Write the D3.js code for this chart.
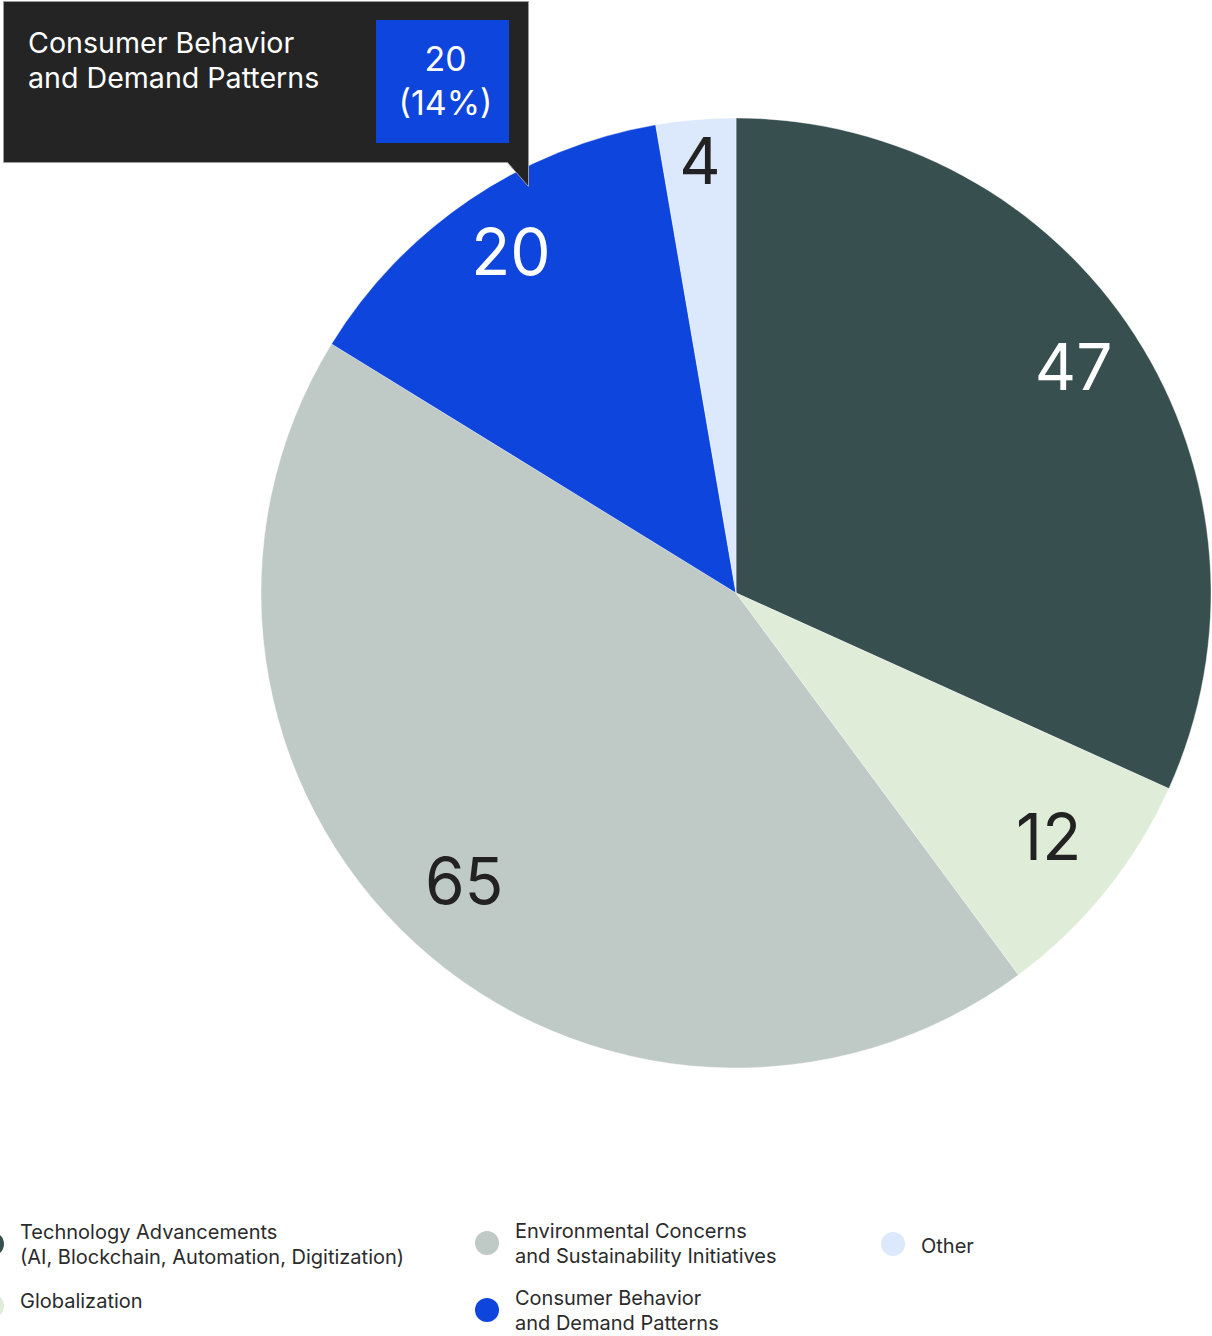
<!DOCTYPE html>
<html>
<head>
<meta charset="utf-8">
<script src="https://cdn.jsdelivr.net/npm/d3@7"></script>
<style>
  html, body { margin: 0; padding: 0; background: #ffffff; }
  svg { display: block; font-family: Inter, "Noto Sans", sans-serif; }
</style>
</head>
<body>
<svg id="chart" width="1212" height="1336"></svg>
<script>
// Drivers of change: number of mentions per category
const categories = [
  "Technology Advancements (AI, Blockchain, Automation, Digitization)",
  "Globalization",
  "Environmental Concerns and Sustainability Initiatives",
  "Consumer Behavior and Demand Patterns",
  "Other"
];
const values = [47, 12, 65, 20, 4];
const legendLines = [
  ["Technology Advancements", "(AI, Blockchain, Automation, Digitization)"],
  ["Globalization"],
  ["Environmental Concerns", "and Sustainability Initiatives"],
  ["Consumer Behavior", "and Demand Patterns"],
  ["Other"]
];
const sliceColors = ["#384f4f", "#deecd8", "#bfc9c6", "#0e45dd", "#dce8fb"];
const labelColors = ["#ffffff", "#222222", "#222222", "#ffffff", "#222222"];
const highlighted = 3; // category shown in the callout

const svg = d3.select("#chart");
const cx = 736, cy = 593, R = 475;
const total = d3.sum(values);

const pie = d3.pie().sort(null).value(d => d)(values);
const arc = d3.arc().innerRadius(0).outerRadius(R);

const g = svg.append("g").attr("transform", `translate(${cx},${cy})`);

g.selectAll("path.slice")
  .data(pie)
  .join("path")
  .attr("class", "slice")
  .attr("d", arc)
  .attr("fill", (d, i) => sliceColors[i])
  .attr("stroke", "#ffffff")
  .attr("stroke-width", 0.4);

// value labels, pushed outward on narrow slices
const labelSize = 64;
g.selectAll("text.val")
  .data(pie)
  .join("text")
  .attr("class", "val")
  .each(function (d, i) {
    const span = d.endAngle - d.startAngle;
    const r = span < 0.25 ? R * 0.895 : R * 0.846;
    const a = (d.startAngle + d.endAngle) / 2;
    d3.select(this)
      .attr("x", r * Math.sin(a))
      .attr("y", -r * Math.cos(a) + 15)
      .attr("text-anchor", "middle")
      .attr("font-size", labelSize)
      .attr("fill", labelColors[i])
      .text(values[i]);
  });

// callout for the highlighted category
const tip = svg.append("g");
const tx = 3.5, ty = 1.5, tw = 525, th = 161;
tip.append("path")
  .attr("d", `M${tx},${ty} H${tx + tw} V${ty + th + 24} L${tx + tw - 21},${ty + th} H${tx} Z`)
  .attr("fill", "#242424")
  .attr("stroke", "#9a9a9a")
  .attr("stroke-width", 1);
legendLines[highlighted].forEach((t, k) => {
  tip.append("text")
    .attr("x", 28).attr("y", 53 + k * 35)
    .attr("font-size", 28.6).attr("fill", "#ffffff")
    .text(t);
});
const bx = 376, by = 20, bw = 133, bh = 123;
tip.append("rect")
  .attr("x", bx).attr("y", by).attr("width", bw).attr("height", bh)
  .attr("fill", sliceColors[highlighted]);
const pct = Math.round(values[highlighted] / total * 100);
[String(values[highlighted]), `(${pct}%)`].forEach((t, k) => {
  tip.append("text")
    .attr("x", bx + bw / 2 + 3).attr("y", 71 + k * 44)
    .attr("text-anchor", "middle")
    .attr("font-size", 34).attr("fill", "#ffffff")
    .text(t);
});

// legend
const legendLayout = [
  { x: 20, cy: 1244 },
  { x: 20, cy: 1306 },
  { x: 515, cy: 1243 },
  { x: 515, cy: 1310 },
  { x: 921, cy: 1244 }
];
const legend = svg.append("g");
categories.forEach((c, i) => {
  const L = legendLayout[i];
  const item = legend.append("g");
  item.append("circle")
    .attr("cx", L.x - 28).attr("cy", L.cy).attr("r", 12)
    .attr("fill", sliceColors[i]);
  const lines = legendLines[i];
  const first = lines.length === 2 ? L.cy - 5 : L.cy + (i === 1 ? 2 : 9);
  lines.forEach((t, k) => {
    item.append("text")
      .attr("x", L.x).attr("y", first + k * 25)
      .attr("font-size", 20).attr("fill", "#2b2b2b")
      .text(t);
  });
});
</script>
</body>
</html>
